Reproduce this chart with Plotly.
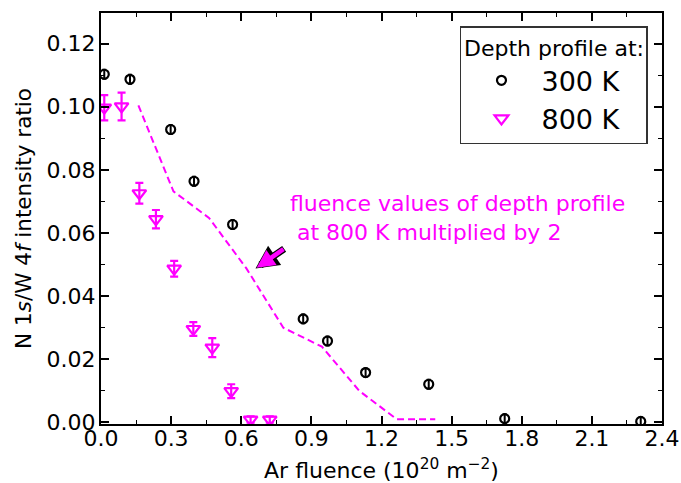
import plotly.graph_objects as go

# 300 K depth profile
x300 = [0.014, 0.124, 0.298, 0.398, 0.563, 0.865, 0.969, 1.132, 1.402, 1.727, 2.309]
y300 = [0.1103, 0.1087, 0.0928, 0.0764, 0.0627, 0.0328, 0.0258, 0.0158, 0.0121, 0.0012, 0.0003]
e300 = [0.0014] * 11

# 800 K depth profile
x800 = [0.014, 0.088, 0.164, 0.235, 0.313, 0.395, 0.476, 0.557, 0.640, 0.722]
y800 = [0.0997, 0.1001, 0.0726, 0.0644, 0.0487, 0.0296, 0.0237, 0.0099, 0.0009, 0.0009]
e800 = [0.0040, 0.0044, 0.0033, 0.0029, 0.0025, 0.0022, 0.0030, 0.0022, 0.0010, 0.0010]

# 800 K profile with fluence values multiplied by 2 (dashed line)
xdash = [0.160, 0.310, 0.462, 0.622, 0.780, 0.945, 1.105, 1.265, 1.430]
ydash = [0.1004, 0.0732, 0.0648, 0.0488, 0.0300, 0.0240, 0.0100, 0.0010, 0.0010]

xticks = [0.0, 0.3, 0.6, 0.9, 1.2, 1.5, 1.8, 2.1, 2.4]
yticks = [0.00, 0.02, 0.04, 0.06, 0.08, 0.10, 0.12]

MAG = "#ff00ff"
FONT = "DejaVu Sans"

fig = go.Figure()
fig.add_trace(go.Scatter(
    x=xdash, y=ydash, mode="lines", showlegend=False,
    line=dict(color=MAG, width=2, dash="7px,4px"), hoverinfo="skip"))
fig.add_trace(go.Scatter(
    x=x300, y=y300, mode="markers", name="300 K",
    marker=dict(symbol="circle-open", size=9, color="black", line=dict(width=2.2, color="black")),
    error_y=dict(type="data", array=e300, visible=True, color="black", thickness=2, width=2)))
fig.add_trace(go.Scatter(
    x=x800, y=y800, mode="markers", name="800 K",
    marker=dict(symbol="triangle-down-open", size=12, color=MAG, line=dict(width=2.2, color=MAG)),
    error_y=dict(type="data", array=e800, visible=True, color=MAG, thickness=2.2, width=4)))

fig.add_annotation(
    x=0.800, y=0.0647, xref="x", yref="y", xanchor="left", yanchor="middle",
    text="fluence values of depth profile<br>\u00a0at 800 K multiplied by 2",
    showarrow=False, align="left", font=dict(family=FONT, size=22, color=MAG))
# arrow (black outline, then magenta)
fig.add_annotation(
    x=0.661, y=0.0488, ax=0.790, ay=0.0553, xref="x", yref="y", axref="x", ayref="y",
    text="", showarrow=True, arrowhead=2, arrowsize=0.66, arrowwidth=7, arrowcolor="black")
fig.add_annotation(
    x=0.666, y=0.0490, ax=0.787, ay=0.0552, xref="x", yref="y", axref="x", ayref="y",
    text="", showarrow=True, arrowhead=2, arrowsize=0.8, arrowwidth=4.5, arrowcolor=MAG)

axis_common = dict(
    showline=True, linewidth=2, linecolor="black", mirror="ticks",
    ticks="inside", ticklen=8, tickwidth=1.5, tickcolor="black",
    showgrid=False, zeroline=False, automargin=False,
    tickfont=dict(family=FONT, size=22, color="black"),
)
fig.update_xaxes(
    range=[0, 2.4], tickvals=xticks, ticktext=[f"{v:.1f}" for v in xticks],
    minor=dict(ticks="inside", ticklen=4, tickwidth=1, tickcolor="black", dtick=0.15, tick0=0),
    title=dict(text="Ar fluence (10<sup>20</sup> m<sup>\u22122</sup>)",
               font=dict(family=FONT, size=22, color="black"), standoff=18),
    ticklabelstandoff=-6,
    **axis_common)
fig.update_yaxes(
    range=[-0.0005, 0.1297], tickvals=yticks, ticktext=[f"{v:.2f}" for v in yticks],
    minor=dict(ticks="inside", ticklen=4, tickwidth=1, tickcolor="black", dtick=0.01, tick0=0),
    title=dict(text="N 1<i>s</i>/W 4<i>f</i> intensity ratio",
               font=dict(family=FONT, size=21.5, color="black"), standoff=9),
    ticklabelstandoff=-1,
    **axis_common)

fig.update_layout(
    width=681, height=483,
    margin=dict(l=101, r=19, t=13, b=59),
    plot_bgcolor="white", paper_bgcolor="white",
    font=dict(family=FONT, color="black"),
    legend=dict(
        x=0.975, y=0.968, xanchor="right", yanchor="top",
        bgcolor="white", bordercolor="#333333", borderwidth=1.5,
        font=dict(family=FONT, size=27, color="black"),
        title=dict(text="Depth profile at:", side="top center",
                   font=dict(family=FONT, size=22, color="black")),
        itemwidth=70, tracegroupgap=0,
    ),
)

fig.write_html("out.html")
